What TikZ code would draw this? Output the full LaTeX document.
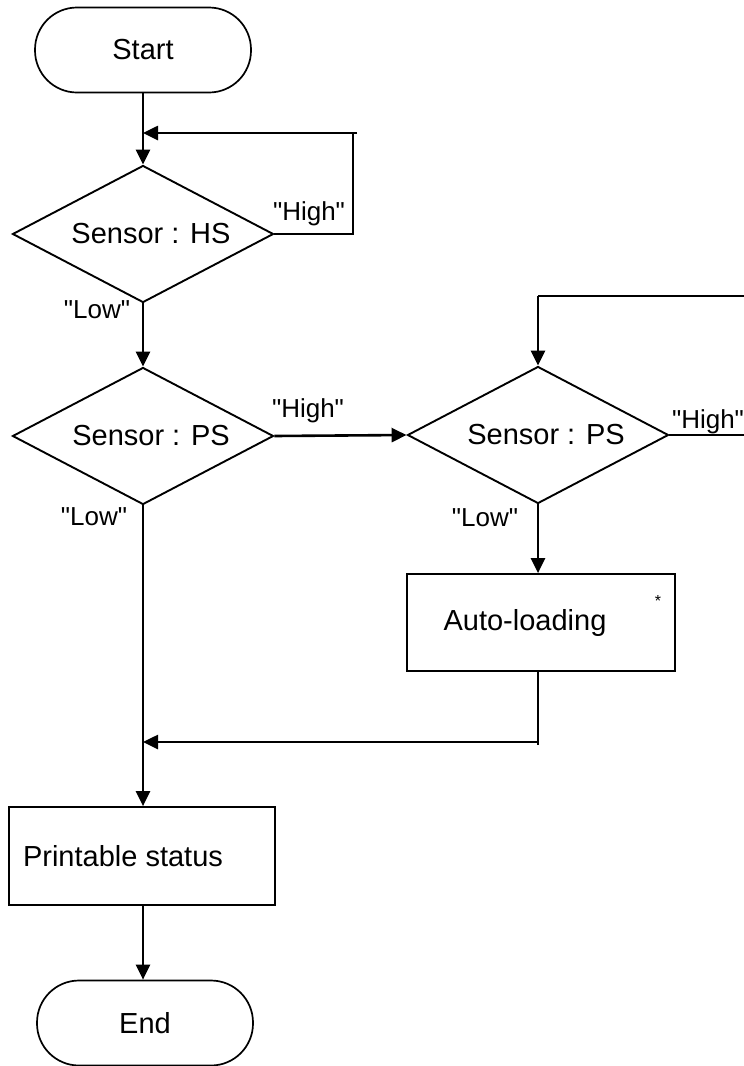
\documentclass[tikz,border=0pt]{standalone}
\usepackage{fontspec}
\setmainfont{Liberation Sans}
\usetikzlibrary{shapes.geometric,arrows.meta}
\begin{document}
\begin{tikzpicture}[x=1pt,y=-1pt,
  txt/.style={font=\fontsize{29}{34}\selectfont},
  lbl/.style={font=\fontsize{26}{30}\selectfont, inner sep=0pt},
  term/.style={draw, line width=1.7pt, rounded corners=42pt, minimum width=216pt, minimum height=85pt, inner sep=0pt, txt},
  dec/.style={draw, diamond, aspect=1.9, line width=1.9pt, minimum width=261pt, minimum height=137pt, inner sep=0pt, txt},
  proc/.style={draw, rectangle, line width=1.7pt, inner sep=0pt, txt},
  flow/.style={line width=2.6pt, -{Triangle[length=15pt,width=14pt]}},
  thinline/.style={line width=1.4pt},
  midline/.style={line width=1.9pt}]
\useasboundingbox (0,0) rectangle (744,1066);

\node[term] (start) at (143,50) {Start};
\node[dec] (hs) at (143,234) {\hspace*{16pt}Sensor : HS};
\node[dec] (ps1) at (143,436) {\hspace*{16pt}Sensor : PS};
\node[dec] (ps2) at (538,435) {\hspace*{16pt}Sensor : PS};
\node[proc, minimum width=268pt, minimum height=97pt] (al) at (541,622.5) {Auto-loading\hspace*{32pt}};
\node[font=\fontsize{16}{18}\selectfont, inner sep=0pt] (star) at (658,601) {*};
\node[proc, minimum width=266pt, minimum height=98pt] (pr) at (142,856) {Printable status\hspace*{38pt}};
\node[term] (end) at (145,1023) {End};

% labels
\node[lbl] (lh1) at (309,214) {\textquotedbl High\textquotedbl};
\node[lbl] (ll1) at (97,310) {\textquotedbl Low\textquotedbl};
\node[lbl] (lh2) at (308,411) {\textquotedbl High\textquotedbl};
\node[lbl] (ll2) at (94,517) {\textquotedbl Low\textquotedbl};
\node[lbl] (lh3) at (708,422) {\textquotedbl High\textquotedbl};
\node[lbl] (ll3) at (485,518) {\textquotedbl Low\textquotedbl};

% coordinates
\coordinate (a1) at (353,234);
\coordinate (a2) at (353,133);
\coordinate (a3) at (357,133);
\coordinate (a4) at (143,133);
\coordinate (b1) at (744,435);
\coordinate (b2) at (744,296);
\coordinate (b3) at (538,296);
\coordinate (c1) at (538,745);
\coordinate (c2) at (538,742);
\coordinate (c3) at (143,742);

% connectors
\draw[flow] (start.south) -- (hs.north);
\draw[thinline] (hs.east) -- (a1) -- (a2);
\draw[flow] (a3) -- (a4);
\draw[flow] (hs.south) -- (ps1.north);
\draw[flow] (ps1.east) -- (ps2.west);
\draw[midline] (ps2.east) -- (b1);
\draw[midline] (b2) -- (b3);
\draw[flow] (b3) -- (ps2.north);
\draw[flow] (ps2.south) -- (ps2.south |- al.north);
\draw[thinline] (al.south -| ps2.south) -- (c1);
\draw[flow] (c2) -- (c3);
\draw[flow] (ps1.south) -- (pr.north -| ps1.south);
\draw[flow] (pr.south -| ps1.south) -- (end.north -| ps1.south);
\end{tikzpicture}
\end{document}
